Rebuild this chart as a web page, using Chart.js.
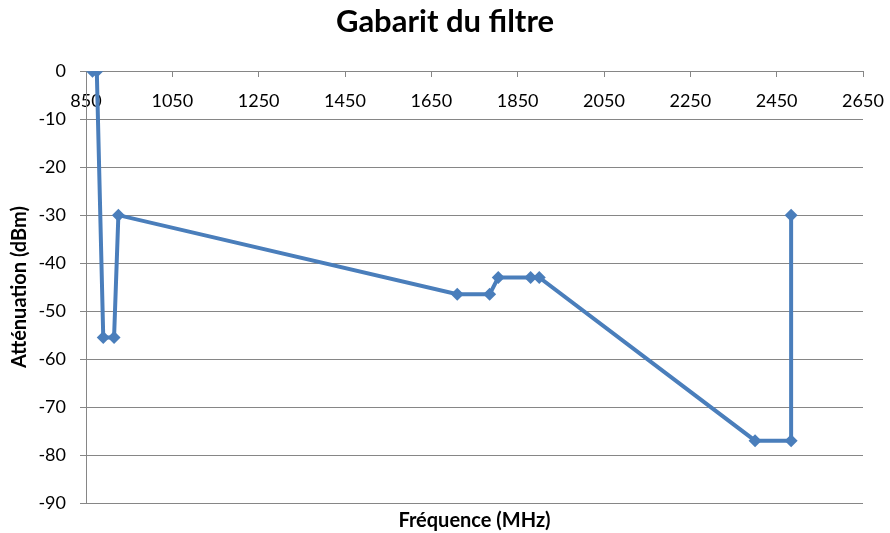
<!DOCTYPE html>
<html>
<head>
<meta charset="utf-8">
<script src="https://cdn.jsdelivr.net/npm/chart.js@4.4.1/dist/chart.umd.min.js"></script>
<style>
  html, body { margin: 0; padding: 0; background: #ffffff; }
  #wrap { width: 890px; height: 533px; }
</style>
</head>
<body>
<div id="wrap"><canvas id="c" width="890" height="533"></canvas></div>
<script>
const chartTitle = "Gabarit du filtre";
const xTitle = "Fréquence (MHz)";
const yTitle = "Atténuation (dBm)";
const frequencies = [865, 875, 890, 915, 925, 1710, 1785, 1805, 1880, 1900, 2400, 2483.5, 2483.5];
const attenuation = [0, 0, -55.5, -55.5, -30, -46.5, -46.5, -43, -43, -43, -77, -77, -30];
const xTickValues = [850, 1050, 1250, 1450, 1650, 1850, 2050, 2250, 2450, 2650];
const yMin = -90, yMax = 0, yStep = 10;

const points = frequencies.map((f, i) => ({ x: f, y: attenuation[i] }));
const FONT = "Lato, 'Liberation Sans', sans-serif";
const GRID = '#868686';
const BLUE = '#4a7ebb';

const sidePad = (s) => { s.paddingLeft = 0; s.paddingRight = 27; };

new Chart(document.getElementById('c'), {
  type: 'scatter',
  data: {
    datasets: [{
      data: points,
      showLine: true,
      borderColor: BLUE,
      backgroundColor: BLUE,
      borderWidth: 4,
      pointStyle: 'rectRot',
      pointRadius: 6.5,
      pointHoverRadius: 6.5,
      pointBorderWidth: 0,
      tension: 0
    }]
  },
  options: {
    responsive: false,
    animation: false,
    devicePixelRatio: 1,
    layout: { padding: 0 },
    plugins: {
      legend: { display: false },
      tooltip: { enabled: false },
      title: {
        display: true,
        text: chartTitle,
        color: '#000',
        font: { family: FONT, size: 31, weight: 'bold' },
        padding: { top: 3, bottom: 31 }
      }
    },
    scales: {
      x: {
        type: 'linear',
        position: { y: 0 },
        min: xTickValues[0],
        max: xTickValues[xTickValues.length - 1],
        afterBuildTicks: (s) => { s.ticks = xTickValues.map(v => ({ value: v })); },
        afterFit: sidePad,
        grid: { display: true, drawOnChartArea: false, drawTicks: true, tickLength: 5, color: GRID },
        border: { display: true, color: GRID, width: 1 },
        ticks: { color: '#000', font: { family: FONT, size: 18 }, padding: 14, maxRotation: 0, autoSkip: false,
                 callback: (v) => String(v) }
      },
      x2: {
        type: 'linear',
        position: 'bottom',
        min: xTickValues[0],
        max: xTickValues[xTickValues.length - 1],
        grid: { display: false },
        border: { display: false },
        ticks: { display: false },
        title: { display: true, text: xTitle, color: '#000', font: { family: FONT, size: 20, weight: 'bold' }, padding: { top: 0, bottom: 0 } },
        afterFit: (s) => { s.height = 30; sidePad(s); }
      },
      y: {
        type: 'linear',
        position: 'left',
        min: yMin,
        max: yMax,
        ticks: { stepSize: yStep, color: '#000', font: { family: FONT, size: 18 }, padding: 14, callback: (v) => String(v) },
        grid: { color: GRID, lineWidth: 1, drawTicks: true, tickLength: 6 },
        border: { display: true, color: GRID, width: 1 },
        title: { display: true, text: yTitle, color: '#000', font: { family: FONT, size: 20, weight: 'bold' }, padding: { top: 8, bottom: 0 } },
        afterFit: (s) => { s.width = 86; }
      }
    }
  }
});
</script>
</body>
</html>
